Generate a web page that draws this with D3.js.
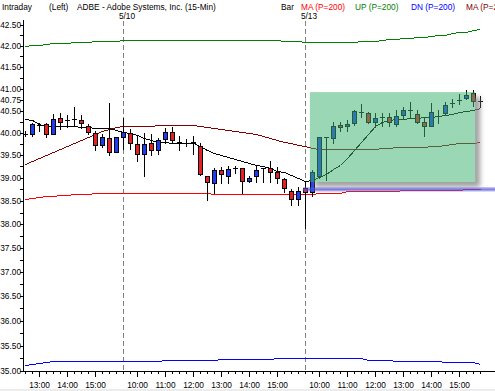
<!DOCTYPE html>
<meta charset="utf-8">
<head>
    <title>ADBE Intraday</title>
    <script src="https://cdn.jsdelivr.net/npm/d3@7"></script>
</head>

<style>
    body { margin: 0; background: #fff; }
    text { font-family: "Liberation Sans", Arial, sans-serif; font-size: 8.3px; fill: #000; }
    .wick { stroke: #000; stroke-width: 1px; shape-rendering: crispEdges; }
    .body { stroke: #000; stroke-width: 1px; shape-rendering: crispEdges; }
    .ind { fill: none; stroke-width: 1px; shape-rendering: crispEdges; }
</style>
<svg></svg>

<script>
    var vWidth = 495;
    var vHeight = 391;

    // 15-min bars, three sessions
    var times = [
        "5/9 12:30", "5/9 12:45", "5/9 13:00", "5/9 13:15", "5/9 13:30", "5/9 13:45", "5/9 14:00",
        "5/9 14:15", "5/9 14:30", "5/9 14:45", "5/9 15:00", "5/9 15:15", "5/9 15:30", "5/9 15:45",
        "5/10 09:30", "5/10 09:45", "5/10 10:00", "5/10 10:15", "5/10 10:30", "5/10 10:45", "5/10 11:00",
        "5/10 11:15", "5/10 11:30", "5/10 11:45", "5/10 12:00", "5/10 12:15", "5/10 12:30", "5/10 12:45",
        "5/10 13:00", "5/10 13:15", "5/10 13:30", "5/10 13:45", "5/10 14:00", "5/10 14:15", "5/10 14:30",
        "5/10 14:45", "5/10 15:00", "5/10 15:15", "5/10 15:30", "5/10 15:45",
        "5/13 09:30", "5/13 09:45", "5/13 10:00", "5/13 10:15", "5/13 10:30", "5/13 10:45", "5/13 11:00",
        "5/13 11:15", "5/13 11:30", "5/13 11:45", "5/13 12:00", "5/13 12:15", "5/13 12:30", "5/13 12:45",
        "5/13 13:00", "5/13 13:15", "5/13 13:30", "5/13 13:45", "5/13 14:00", "5/13 14:15", "5/13 14:30",
        "5/13 14:45", "5/13 15:00", "5/13 15:15", "5/13 15:30", "5/13 15:45"
    ];
    var opens = [39.98, 39.96, 40.18, 40.20, 39.98, 40.33, 40.28, 40.31, 40.29, 40.16, 40.00, 39.73, 39.88, 39.58,
        39.90, 39.99, 39.75, 39.53, 39.77, 39.61, 39.86, 40.01, 39.80, 39.77, 39.80, 39.70, 39.04, 38.89,
        39.17, 39.04, 39.21, 39.21, 38.93, 39.04, 39.21, 39.22, 39.13, 38.97, 38.71, 38.54,
        38.78, 38.70, 39.05, 39.90, 39.88, 40.18, 40.16, 40.22, 40.47, 40.44, 40.25, 40.36, 40.35, 40.19,
        40.40, 40.52, 40.42, 40.23, 40.15, 40.38, 40.45, 40.67, 40.74, 40.78, 40.91, 40.72];
    var highs = [40.03, 40.22, 40.22, 40.21, 40.42, 40.44, 40.40, 40.58, 40.40, 40.20, 40.03, 39.96, 40.68, 39.90,
        40.33, 40.09, 39.92, 40.00, 39.96, 39.89, 40.11, 40.13, 39.93, 39.87, 39.92, 39.77, 39.04, 39.21,
        39.23, 39.26, 39.26, 39.21, 39.04, 39.26, 39.22, 39.37, 39.24, 38.99, 38.76, 38.80,
        38.90, 39.18, 39.90, 39.91, 40.23, 40.25, 40.29, 40.52, 40.64, 40.47, 40.44, 40.44, 40.44, 40.51,
        40.58, 40.69, 40.51, 40.34, 40.67, 40.51, 40.69, 40.76, 40.87, 40.96, 40.96, 40.83];
    var lows = [39.92, 39.93, 40.03, 39.91, 39.97, 40.09, 40.13, 40.18, 40.11, 39.98, 39.62, 39.67, 39.51, 39.56,
        39.64, 39.64, 39.36, 39.05, 39.51, 39.53, 39.78, 39.78, 39.62, 39.70, 39.53, 39.07, 38.52, 38.68,
        38.89, 38.88, 39.10, 38.67, 38.92, 38.91, 38.91, 38.91, 38.89, 38.70, 38.42, 38.42,
        37.93, 38.60, 38.99, 38.95, 39.76, 40.03, 40.04, 40.18, 40.35, 40.22, 40.12, 40.16, 40.14, 40.14,
        40.32, 40.35, 40.22, 39.92, 40.14, 40.22, 40.42, 40.58, 40.65, 40.76, 40.61, 40.58];
    var closes = [39.98, 40.20, 40.18, 39.98, 40.30, 40.25, 40.28, 40.31, 40.22, 40.02, 39.72, 39.90, 39.58, 39.90,
        40.01, 39.77, 39.53, 39.75, 39.61, 39.83, 40.01, 39.84, 39.76, 39.77, 39.76, 39.09, 38.91, 39.17,
        39.08, 39.19, 39.21, 38.93, 39.00, 39.17, 39.21, 39.13, 39.00, 38.77, 38.54, 38.71,
        38.69, 39.12, 39.90, 39.90, 40.16, 40.13, 40.20, 40.49, 40.47, 40.25, 40.32, 40.36, 40.23, 40.37,
        40.51, 40.52, 40.25, 40.15, 40.47, 40.38, 40.63, 40.67, 40.74, 40.85, 40.72, 40.72];

    // indicator series (one value per bar)
    var maShort = [40.30, 40.29, 40.19, 40.16, 40.15, 40.14, 40.14, 40.14, 40.13, 40.12, 40.11, 40.11, 40.10, 40.07,
        40.02, 39.99, 39.95, 39.89, 39.83, 39.80, 39.79, 39.78, 39.77, 39.77, 39.77, 39.71, 39.61, 39.55,
        39.51, 39.46, 39.42, 39.37, 39.33, 39.28, 39.25, 39.21, 39.16, 39.12, 39.06, 38.99,
        38.93, 38.95, 39.02, 39.08, 39.20, 39.28, 39.43, 39.61, 39.79, 39.98, 40.14, 40.25, 40.28, 40.30,
        40.31, 40.33, 40.34, 40.35, 40.36, 40.38, 40.40, 40.43, 40.46, 40.49, 40.52, 40.55];
    var maSlow = [39.31, 39.37, 39.44, 39.51, 39.56, 39.63, 39.70, 39.78, 39.84, 39.91, 39.98, 40.03, 40.09, 40.13,
        40.14, 40.14, 40.14, 40.14, 40.15, 40.17, 40.18, 40.18, 40.18, 40.18, 40.17, 40.15, 40.12, 40.10,
        40.08, 40.06, 40.03, 40.02, 39.99, 39.96, 39.92, 39.88, 39.84, 39.80, 39.77, 39.73,
        39.70, 39.66, 39.64, 39.64, 39.64, 39.64, 39.64, 39.64, 39.64, 39.64, 39.64, 39.65, 39.66, 39.67,
        39.67, 39.68, 39.69, 39.69, 39.70, 39.71, 39.73, 39.74, 39.76, 39.77, 39.78, 39.79];
    var ma200 = [38.54, 38.56, 38.58, 38.60, 38.61, 38.62, 38.63, 38.64, 38.65, 38.66, 38.68, 38.68, 38.68, 38.68,
        38.68, 38.68, 38.68, 38.68, 38.68, 38.68, 38.68, 38.68, 38.68, 38.68, 38.68, 38.68, 38.67, 38.65,
        38.65, 38.65, 38.65, 38.65, 38.65, 38.65, 38.65, 38.65, 38.65, 38.65, 38.65, 38.65,
        38.66, 38.66, 38.68, 38.68, 38.68, 38.68, 38.71, 38.71, 38.71, 38.71, 38.71, 38.71, 38.71, 38.71,
        38.74, 38.74, 38.74, 38.74, 38.74, 38.74, 38.74, 38.74, 38.74, 38.76, 38.76, 38.76];
    var upBand = [41.99, 42.01, 42.02, 42.03, 42.05, 42.06, 42.07, 42.08, 42.09, 42.09, 42.10, 42.11, 42.12, 42.12,
        42.13, 42.14, 42.14, 42.14, 42.14, 42.14, 42.14, 42.14, 42.14, 42.14, 42.14, 42.14, 42.14, 42.14,
        42.14, 42.14, 42.14, 42.14, 42.14, 42.14, 42.14, 42.14, 42.13, 42.12, 42.11, 42.10,
        42.095, 42.085, 42.08, 42.08, 42.08, 42.08, 42.08, 42.09, 42.10, 42.11, 42.12, 42.14, 42.15, 42.16,
        42.17, 42.18, 42.20, 42.21, 42.23, 42.25, 42.26, 42.29, 42.31, 42.33, 42.36, 42.39];
    var dnBand = [35.12, 35.14, 35.16, 35.18, 35.19, 35.20, 35.20, 35.20, 35.20, 35.20, 35.20, 35.20, 35.20, 35.20,
        35.20, 35.20, 35.20, 35.20, 35.20, 35.20, 35.22, 35.22, 35.22, 35.22, 35.22, 35.22, 35.22, 35.22,
        35.23, 35.23, 35.23, 35.23, 35.24, 35.24, 35.24, 35.24, 35.25, 35.25, 35.25, 35.25,
        35.26, 35.26, 35.26, 35.26, 35.26, 35.26, 35.26, 35.25, 35.25, 35.22, 35.22, 35.22, 35.22, 35.20,
        35.20, 35.20, 35.20, 35.20, 35.20, 35.20, 35.17, 35.17, 35.17, 35.17, 35.17, 35.14];

    var priceLabels = [42.5, 42, 41.5, 41, 40.75, 40.5, 40, 39.5, 39, 38.5, 38, 37.5, 37, 36.5, 36, 35.5, 35];

    // shaded annotation areas (bar index / price)
    var greenBox = {from: 40.7, to: 64.3, low: 38.91, high: 40.92};
    var blueBand = {from: 39.7, to: 70, low: 38.70, high: 38.80};

    var header = [
        {text: "Intraday", color: "#000", x: 2},
        {text: "(Left)", color: "#000", x: 49},
        {text: "ADBE - Adobe Systems, Inc. (15-Min)", color: "#000", x: 77},
        {text: "Bar", color: "#000", x: 281},
        {text: "MA (P=200)", color: "#ff0000", x: 301},
        {text: "UP (P=200)", color: "#008000", x: 355},
        {text: "DN (P=200)", color: "#0000ff", x: 411},
        {text: "MA (P=200)", color: "#800000", x: 466}
    ];

    var svg = d3.select('svg').attr('width', vWidth).attr('height', vHeight);
    var defs = svg.append('defs');

    var x = d3.scaleLinear().domain([0, 65]).range([25, 480]);
    var y = d3.scaleLog().domain([35, 42.5]).range([371, 24.5]);
    var px = function (i) { return Math.round(x(i)); };

    defs.append('clipPath').attr('id', 'clip')
        .append('rect').attr('x', 24).attr('y', 18).attr('width', vWidth - 24).attr('height', 353);

    var sg = defs.append('linearGradient').attr('id', 'bandGrad').attr('x1', 0).attr('x2', 0).attr('y1', 0).attr('y2', 1);
    sg.append('stop').attr('offset', '0%').attr('stop-color', '#6a6ae0').attr('stop-opacity', 0.35);
    sg.append('stop').attr('offset', '50%').attr('stop-color', '#5050d8').attr('stop-opacity', 0.75);
    sg.append('stop').attr('offset', '100%').attr('stop-color', '#6a6ae0').attr('stop-opacity', 0.35);

    defs.append('filter').attr('id', 'blur').attr('x', '-20%').attr('y', '-20%').attr('width', '140%').attr('height', '140%')
        .append('feGaussianBlur').attr('stdDeviation', 2.5);

    var bx0 = x(greenBox.from), bx1 = x(greenBox.to);
    var by0 = y(greenBox.high), by1 = y(greenBox.low);
    var mask = defs.append('mask').attr('id', 'outBox');
    mask.append('rect').attr('x', 0).attr('y', 0).attr('width', vWidth).attr('height', vHeight).attr('fill', '#fff');
    mask.append('rect').attr('x', bx0).attr('y', by0).attr('width', bx1 - bx0).attr('height', by1 - by0).attr('fill', '#000');

    // bottom strip
    svg.append('rect').attr('x', 0).attr('y', 389).attr('width', vWidth).attr('height', 2).attr('fill', '#ececec');

    var plot = svg.append('g').attr('clip-path', 'url(#clip)');

    // session separators
    var sessions = [];
    times.forEach(function (t, i) { if (t.split(' ')[1] === "09:30") sessions.push({i: i, day: t.split(' ')[0]}); });
    plot.selectAll('line.sep').data(sessions).enter().append('line')
        .attr('x1', function (d) { return px(d.i) + 0.5; })
        .attr('x2', function (d) { return px(d.i) + 0.5; })
        .attr('y1', 21).attr('y2', 371)
        .attr('stroke', '#808080').attr('stroke-dasharray', '5,3');

    // indicator lines
    var line = d3.line().x(function (d, i) { return px(i) + 0.5; }).y(function (d) { return Math.round(y(d)) + 0.5; });
    var series = [
        {vals: upBand, color: '#008000'},
        {vals: dnBand, color: '#0000ff'},
        {vals: ma200, color: '#ff0000'},
        {vals: maSlow, color: '#800000'},
        {vals: maShort, color: '#000000'}
    ];
    plot.selectAll('path.ind').data(series).enter().append('path')
        .attr('class', 'ind')
        .attr('stroke', function (d) { return d.color; })
        .attr('d', function (d) { return line(d.vals); });

    // candles
    var bars = times.map(function (t, i) {
        return {i: i, o: opens[i], h: highs[i], l: lows[i], c: closes[i]};
    });
    var cg = plot.append('g');
    cg.selectAll('line.wick').data(bars).enter().append('line')
        .attr('class', 'wick')
        .attr('x1', function (d) { return px(d.i) + 0.5; })
        .attr('x2', function (d) { return px(d.i) + 0.5; })
        .attr('y1', function (d) { return Math.round(y(d.h)); })
        .attr('y2', function (d) { return Math.round(y(d.l)) + 1; });
    cg.selectAll('rect.body').data(bars).enter().append('rect')
        .attr('class', 'body')
        .attr('x', function (d) { return px(d.i) - 1.5; })
        .attr('width', 4)
        .attr('y', function (d) { return Math.round(y(Math.max(d.o, d.c))) + 0.5; })
        .attr('height', function (d) { return Math.max(0.01, Math.round(y(Math.min(d.o, d.c))) - Math.round(y(Math.max(d.o, d.c)))); })
        .attr('fill', function (d) { return d.c > d.o ? '#1f3cf5' : (d.c < d.o ? '#e81e24' : '#000'); });

    // green box with shadow
    plot.append('rect')
        .attr('x', bx0 + 5).attr('y', by0 + 5).attr('width', bx1 - bx0).attr('height', by1 - by0)
        .attr('fill', '#8a8a8a').attr('opacity', 0.8)
        .attr('filter', 'url(#blur)').attr('mask', 'url(#outBox)');
    plot.append('rect')
        .attr('x', bx0).attr('y', by0).attr('width', bx1 - bx0).attr('height', by1 - by0)
        .attr('fill', '#3cb371').attr('opacity', 0.52);

    // lavender band
    plot.append('rect')
        .attr('x', x(blueBand.from)).attr('y', y(blueBand.high))
        .attr('width', x(blueBand.to) - x(blueBand.from)).attr('height', y(blueBand.low) - y(blueBand.high))
        .attr('fill', 'url(#bandGrad)');

    // y axis
    var yTicks = d3.range(35, 42.51, 0.25);
    var yAxis = d3.axisLeft(y).tickValues(yTicks).tickSize(3).tickSizeOuter(0)
        .tickFormat(function (d) { return priceLabels.indexOf(+d.toFixed(2)) >= 0 ? d.toFixed(2) : ''; });
    var gy = svg.append('g').attr('transform', 'translate(23,0)').call(yAxis);
    gy.select('.domain').remove();
    gy.selectAll('line').attr('stroke', '#000').attr('shape-rendering', 'crispEdges');
    gy.selectAll('text').attr('x', -2).attr('font-size', null).attr('font-family', null);
    svg.append('line').attr('x1', 23.5).attr('x2', 23.5).attr('y1', 20).attr('y2', 371.5)
        .attr('stroke', '#000').attr('shape-rendering', 'crispEdges');

    // x axis
    var isHour = function (i) { return times[i].slice(-2) === "00"; };
    var xAxis = d3.axisBottom(d3.scaleLinear().domain([0, 65]).range([x(0), x(65)]))
        .tickValues(d3.range(times.length)).tickSizeOuter(0)
        .tickFormat(function (i) { return isHour(i) ? times[i].split(' ')[1] : ''; });
    var gx = svg.append('g').attr('transform', 'translate(0,371)').call(xAxis);
    gx.select('.domain').remove();
    gx.selectAll('.tick').attr('transform', function (i) { return 'translate(' + (px(i) + 0.5) + ',0)'; });
    gx.selectAll('.tick line').attr('stroke', '#000').attr('shape-rendering', 'crispEdges')
        .attr('y2', function (i) { return isHour(i) ? 6 : 3; });
    gx.selectAll('.tick text').attr('y', 11).attr('dy', '0.71em').attr('font-size', null).attr('font-family', null);
    svg.append('line').attr('x1', 23).attr('x2', vWidth).attr('y1', 371.5).attr('y2', 371.5)
        .attr('stroke', '#000').attr('shape-rendering', 'crispEdges');

    // session dates
    svg.selectAll('text.day').data(sessions).enter().append('text')
        .attr('x', function (d) { return px(d.i) + 4; })
        .attr('y', 18.5).attr('text-anchor', 'middle')
        .text(function (d) { return d.day; });

    // header
    svg.selectAll('text.hdr').data(header).enter().append('text')
        .attr('x', function (d) { return d.x; }).attr('y', 9.5)
        .style('fill', function (d) { return d.color; })
        .text(function (d) { return d.text; });
</script>
